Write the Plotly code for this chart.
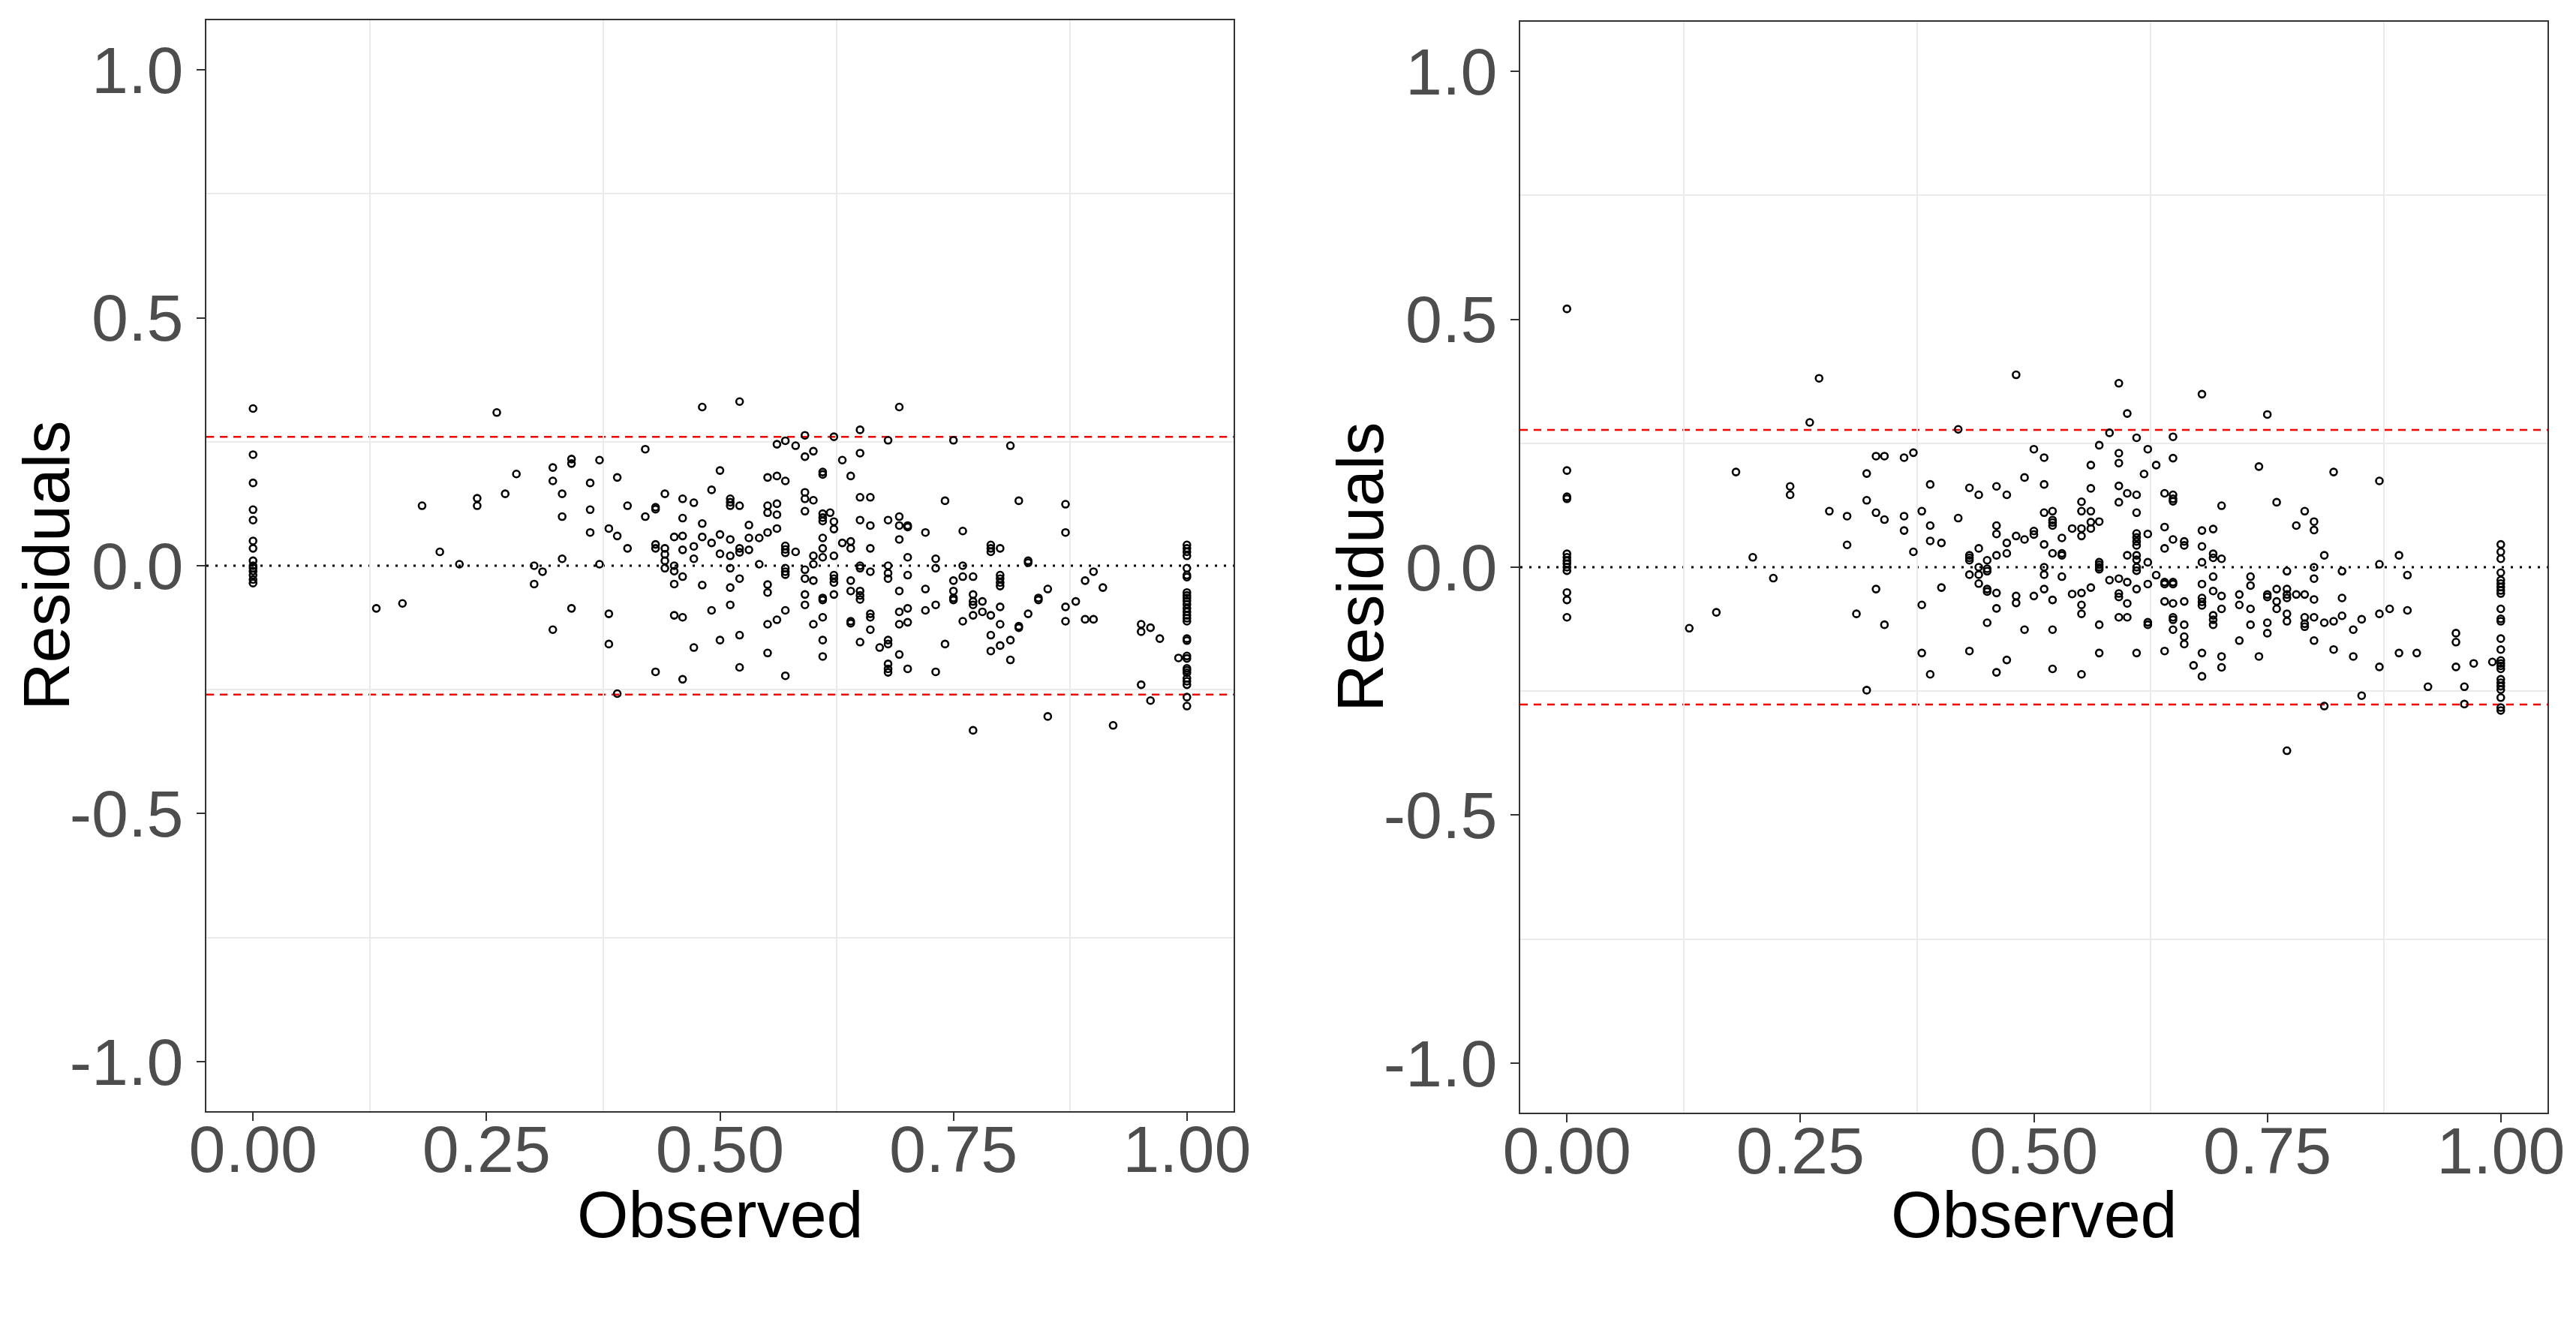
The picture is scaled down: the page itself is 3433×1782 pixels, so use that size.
# residuals vs observed, two panels (a) and (b)
import plotly.graph_objects as go

W, H = 3433, 1782          # browser window
OFF = 8                    # default body margin of the html page
FW, FH = W - 2 * OFF, H - 2 * OFF

# ---- data: (observed, residual) ----
pts_a = [
    (0, 0.317), (0, 0.224), (0, 0.167), (0, 0.113), (0, 0.092), (0, 0.050), (0, 0.035),
    (0, 0.010), (0, 0.0), (0, -0.005), (0, -0.011), (0, -0.019), (0, -0.028), (0, -0.035),
    (0.261, 0.309), (0.481, 0.320), (0.181, 0.121), (0.200, 0.028), (0.221, 0.003),
    (0.132, -0.086), (0.160, -0.076), (0.240, 0.136), (0.240, 0.121), (0.270, 0.145),
    (0.282, 0.185), (0.301, 0.0), (0.310, -0.012), (0.301, -0.037), (0.321, 0.198),
    (0.321, 0.171), (0.331, 0.145), (0.331, 0.099), (0.331, 0.014), (0.341, 0.215),
    (0.341, 0.206), (0.341, -0.086), (0.321, -0.129), (0.371, 0.213), (0.361, 0.167),
    (0.361, 0.113), (0.361, 0.067), (0.371, 0.003), (0.390, 0.178), (0.381, 0.075),
    (0.390, 0.060), (0.401, 0.121), (0.401, 0.035), (0.381, -0.097), (0.381, -0.158),
    (0.390, -0.258), (0.420, 0.235), (0.420, 0.099), (0.431, 0.118), (0.431, 0.114),
    (0.431, 0.043), (0.431, 0.035), (0.441, 0.145), (0.441, 0.035), (0.441, 0.023),
    (0.441, 0.010), (0.441, -0.005), (0.451, 0.058), (0.451, 0.0), (0.451, -0.011),
    (0.451, -0.037), (0.451, -0.100), (0.460, 0.135), (0.460, 0.096), (0.460, 0.060),
    (0.460, 0.032), (0.460, -0.022), (0.460, -0.104), (0.460, -0.229), (0.431, -0.214),
    (0.472, 0.127), (0.472, 0.039), (0.472, 0.014), (0.472, -0.165), (0.481, 0.085),
    (0.481, 0.058), (0.481, -0.039), (0.491, 0.153), (0.491, 0.046), (0.491, -0.090),
    (0.500, 0.192), (0.500, 0.063), (0.500, 0.024), (0.500, -0.150),
    (0.521, 0.331), (0.511, 0.135), (0.511, 0.128), (0.511, 0.121), (0.521, 0.121),
    (0.531, 0.082), (0.531, 0.056), (0.542, 0.056), (0.511, 0.053), (0.521, 0.035),
    (0.521, 0.027), (0.531, 0.032), (0.511, 0.020), (0.542, 0.003), (0.511, -0.005),
    (0.521, -0.026), (0.511, -0.044), (0.511, -0.079), (0.521, -0.140), (0.521, -0.205),
    (0.551, 0.178), (0.561, 0.181), (0.570, 0.171), (0.561, 0.245), (0.570, 0.252),
    (0.581, 0.242), (0.591, 0.263), (0.591, 0.220), (0.600, 0.231), (0.551, 0.121),
    (0.561, 0.125), (0.551, 0.107), (0.561, 0.103), (0.551, 0.067), (0.561, 0.075),
    (0.570, 0.040), (0.570, 0.033), (0.570, 0.026), (0.581, 0.028), (0.570, -0.005),
    (0.570, -0.012), (0.570, -0.018), (0.551, -0.038), (0.551, -0.054), (0.570, -0.090),
    (0.551, -0.118), (0.561, -0.109), (0.551, -0.176), (0.570, -0.222), (0.591, 0.148),
    (0.591, 0.135), (0.600, 0.132), (0.591, 0.110), (0.600, 0.020), (0.600, 0.003),
    (0.591, -0.008), (0.591, -0.026), (0.600, -0.030), (0.591, -0.058), (0.591, -0.079),
    (0.600, -0.118), (0.610, 0.189), (0.610, 0.184), (0.610, 0.105), (0.610, 0.097),
    (0.610, 0.090), (0.618, 0.107), (0.622, 0.089), (0.622, 0.074), (0.610, 0.056),
    (0.610, 0.035), (0.610, 0.017), (0.622, 0.020), (0.622, -0.019), (0.622, -0.026),
    (0.622, -0.034), (0.622, -0.058), (0.610, -0.065), (0.610, -0.069), (0.610, -0.104),
    (0.610, -0.150), (0.610, -0.183), (0.622, 0.260), (0.631, 0.213), (0.640, 0.181),
    (0.650, 0.274), (0.650, 0.227), (0.650, 0.138), (0.661, 0.138), (0.650, 0.092),
    (0.661, 0.081), (0.631, 0.046), (0.640, 0.049), (0.640, 0.035), (0.661, 0.035),
    (0.650, 0.0), (0.650, -0.005), (0.661, -0.012), (0.640, -0.030), (0.640, -0.051),
    (0.650, -0.051), (0.650, -0.060), (0.650, -0.068), (0.661, -0.097), (0.661, -0.104),
    (0.640, -0.112), (0.640, -0.116), (0.661, -0.129), (0.650, -0.154), (0.680, 0.253),
    (0.692, 0.320), (0.680, 0.092), (0.692, 0.099), (0.692, 0.081), (0.701, 0.081),
    (0.701, 0.078), (0.692, 0.053), (0.701, 0.017), (0.680, 0.0), (0.680, -0.015),
    (0.680, -0.026), (0.701, -0.019), (0.692, -0.051), (0.692, -0.093), (0.701, -0.086),
    (0.692, -0.118), (0.701, -0.114), (0.671, -0.165), (0.680, -0.150), (0.680, -0.158),
    (0.692, -0.179), (0.680, -0.198), (0.680, -0.208), (0.680, -0.215), (0.701, -0.208),
    (0.720, 0.067), (0.720, -0.047), (0.720, -0.090), (0.731, 0.014), (0.731, -0.005),
    (0.731, -0.079), (0.731, -0.214), (0.741, 0.131), (0.741, -0.158), (0.750, 0.253),
    (0.750, -0.030), (0.750, -0.051), (0.750, -0.065), (0.750, -0.069), (0.760, 0.070),
    (0.760, 0.0), (0.760, -0.022), (0.760, -0.112), (0.771, -0.022), (0.771, -0.058),
    (0.771, -0.072), (0.771, -0.079), (0.771, -0.100), (0.781, -0.072), (0.781, -0.093),
    (0.771, -0.332), (0.790, 0.042), (0.790, 0.035), (0.790, 0.028), (0.800, 0.035),
    (0.800, -0.019), (0.800, -0.026), (0.800, -0.034), (0.800, -0.041), (0.790, -0.100),
    (0.800, -0.083), (0.800, -0.118), (0.790, -0.140), (0.790, -0.172), (0.800, -0.161),
    (0.811, 0.242), (0.811, -0.150), (0.811, -0.190), (0.820, 0.131), (0.820, -0.122),
    (0.820, -0.125), (0.830, 0.010), (0.830, 0.006), (0.830, -0.097), (0.841, -0.065),
    (0.841, -0.069), (0.851, -0.047), (0.851, -0.304), (0.870, 0.124), (0.870, 0.067),
    (0.870, -0.083), (0.870, -0.112), (0.881, -0.072), (0.891, -0.030), (0.900, -0.012),
    (0.910, -0.044), (0.891, -0.108), (0.900, -0.108), (0.921, -0.322), (0.951, -0.118),
    (0.951, -0.133), (0.961, -0.125), (0.971, -0.147), (0.951, -0.240), (0.961, -0.272),
    (0.991, -0.186),
    (1, 0.042), (1, 0.035), (1, 0.028), (1, 0.020), (1, -0.005), (1, -0.019), (1, -0.023),
    (1, -0.054), (1, -0.060), (1, -0.065), (1, -0.071), (1, -0.078), (1, -0.086),
    (1, -0.093), (1, -0.100), (1, -0.106), (1, -0.112), (1, -0.147), (1, -0.151),
    (1, -0.182), (1, -0.187), (1, -0.207), (1, -0.211), (1, -0.216), (1, -0.227),
    (1, -0.233), (1, -0.240), (1, -0.265), (1, -0.283),
]

pts_b = [
    (0, 0.521), (0, 0.195), (0, 0.142), (0, 0.138), (0, 0.027), (0, 0.020), (0, 0.013),
    (0, 0.007), (0, 0.0), (0, -0.007), (0, -0.051), (0, -0.066), (0, -0.101),
    (0.131, -0.123), (0.160, -0.091), (0.181, 0.192), (0.199, 0.020), (0.221, -0.022),
    (0.239, 0.163), (0.239, 0.146), (0.260, 0.292), (0.270, 0.381), (0.281, 0.113),
    (0.300, 0.103), (0.300, 0.045), (0.310, -0.094), (0.321, 0.189), (0.321, 0.135),
    (0.321, -0.248), (0.331, 0.224), (0.340, 0.224), (0.331, 0.110), (0.340, 0.096),
    (0.331, -0.044), (0.340, -0.116), (0.361, 0.221), (0.371, 0.231), (0.361, 0.103),
    (0.361, 0.074), (0.371, 0.031), (0.380, 0.113), (0.380, -0.076), (0.380, -0.173),
    (0.389, 0.167), (0.389, 0.084), (0.389, 0.053), (0.401, 0.049), (0.401, -0.041),
    (0.389, -0.216), (0.419, 0.278), (0.419, 0.099), (0.431, 0.160), (0.441, 0.146),
    (0.431, 0.024), (0.431, 0.019), (0.431, 0.014), (0.441, 0.038), (0.431, -0.015),
    (0.441, 0.0), (0.441, -0.015), (0.441, -0.033), (0.450, 0.014), (0.450, -0.003),
    (0.450, -0.008), (0.450, -0.044), (0.450, -0.049), (0.431, -0.169), (0.450, -0.112),
    (0.460, 0.163), (0.471, 0.146), (0.460, 0.084), (0.460, 0.067), (0.471, 0.049),
    (0.460, 0.024), (0.471, 0.028), (0.460, -0.052), (0.460, -0.083), (0.471, -0.187),
    (0.460, -0.212), (0.481, 0.388), (0.481, 0.063), (0.490, 0.056), (0.481, -0.058),
    (0.481, -0.072), (0.490, 0.181), (0.490, -0.126), (0.500, 0.238), (0.511, 0.221),
    (0.511, 0.167), (0.500, 0.073), (0.500, 0.066), (0.500, -0.058), (0.511, 0.110),
    (0.520, 0.113), (0.520, 0.095), (0.520, 0.090), (0.520, 0.084), (0.511, 0.046),
    (0.511, 0.0), (0.511, -0.015), (0.511, -0.044), (0.520, 0.028), (0.530, 0.028),
    (0.530, 0.024), (0.530, 0.059), (0.530, -0.019), (0.520, -0.066), (0.520, -0.126),
    (0.520, -0.205), (0.541, 0.078), (0.551, 0.078), (0.551, 0.132), (0.551, 0.113),
    (0.551, 0.063), (0.541, -0.054), (0.551, -0.052), (0.551, -0.076), (0.551, -0.094),
    (0.551, -0.216), (0.561, 0.206), (0.561, 0.159), (0.561, 0.113), (0.561, 0.091),
    (0.561, 0.078), (0.561, -0.041), (0.570, 0.246), (0.570, 0.092), (0.570, 0.010),
    (0.570, 0.005), (0.570, 0.0), (0.570, -0.004), (0.570, -0.116), (0.570, -0.173),
    (0.581, 0.271), (0.581, -0.026), (0.591, 0.371), (0.591, 0.230), (0.591, 0.210),
    (0.591, 0.164), (0.591, 0.131), (0.591, -0.023), (0.591, -0.053), (0.591, -0.060),
    (0.591, -0.101), (0.600, 0.310), (0.600, 0.149), (0.600, 0.024), (0.600, -0.030),
    (0.600, -0.073), (0.600, -0.101), (0.610, 0.261), (0.610, 0.146), (0.610, 0.110),
    (0.610, 0.068), (0.610, 0.060), (0.610, 0.052), (0.610, 0.044), (0.610, 0.024),
    (0.610, 0.015), (0.610, 0.0), (0.610, -0.007), (0.610, -0.044), (0.610, -0.173),
    (0.618, 0.188), (0.622, 0.238), (0.622, 0.067), (0.622, 0.010), (0.622, -0.034),
    (0.622, -0.111), (0.622, -0.116), (0.631, 0.206), (0.631, -0.016), (0.640, 0.149),
    (0.640, 0.081), (0.640, 0.038), (0.640, -0.030), (0.640, -0.034), (0.640, -0.069),
    (0.640, -0.169), (0.649, 0.263), (0.649, 0.220), (0.649, 0.146), (0.649, 0.138),
    (0.649, 0.133), (0.649, 0.056), (0.649, -0.030), (0.649, -0.034), (0.649, -0.073),
    (0.649, -0.101), (0.649, -0.106), (0.649, -0.126), (0.661, 0.052), (0.661, 0.044),
    (0.661, -0.069), (0.661, -0.116), (0.661, -0.140), (0.661, -0.155), (0.671, -0.198),
    (0.680, 0.349), (0.680, 0.074), (0.692, 0.077), (0.680, 0.042), (0.680, 0.010),
    (0.680, -0.034), (0.680, -0.062), (0.680, -0.070), (0.680, -0.077), (0.680, -0.173),
    (0.680, -0.220), (0.692, 0.027), (0.692, 0.019), (0.692, -0.019), (0.692, -0.048),
    (0.692, -0.097), (0.692, -0.106), (0.692, -0.116), (0.701, 0.124), (0.701, 0.017),
    (0.701, -0.058), (0.701, -0.084), (0.701, -0.180), (0.701, -0.202), (0.720, -0.055),
    (0.720, -0.076), (0.720, -0.148), (0.732, -0.019), (0.732, -0.037), (0.732, -0.084),
    (0.732, -0.116), (0.741, 0.203), (0.741, -0.180), (0.750, 0.308), (0.750, -0.055),
    (0.750, -0.060), (0.750, -0.112), (0.750, -0.133), (0.760, 0.131), (0.760, -0.044),
    (0.760, -0.069), (0.760, -0.084), (0.771, -0.008), (0.771, -0.044), (0.771, -0.055),
    (0.771, -0.062), (0.771, -0.094), (0.771, -0.109), (0.771, -0.370), (0.781, 0.084),
    (0.781, -0.055), (0.790, -0.055), (0.790, 0.113), (0.790, -0.101), (0.790, -0.114),
    (0.790, -0.120), (0.800, 0.092), (0.800, 0.075), (0.800, 0.0), (0.800, -0.023),
    (0.800, -0.065), (0.800, -0.101), (0.800, -0.148), (0.811, 0.024), (0.811, -0.112),
    (0.811, -0.280), (0.821, 0.192), (0.821, -0.109), (0.821, -0.166), (0.830, -0.008),
    (0.830, -0.062), (0.830, -0.098), (0.842, -0.126), (0.842, -0.180), (0.851, -0.105),
    (0.851, -0.259), (0.870, 0.174), (0.870, 0.006), (0.870, -0.094), (0.870, -0.201),
    (0.881, -0.084), (0.891, 0.024), (0.891, -0.173), (0.900, -0.016), (0.900, -0.087),
    (0.910, -0.173), (0.922, -0.241), (0.952, -0.133), (0.952, -0.151), (0.952, -0.201),
    (0.961, -0.241), (0.961, -0.276), (0.971, -0.194), (0.991, -0.191),
    (1, 0.046), (1, 0.031), (1, 0.017), (1, -0.011), (1, -0.026), (1, -0.033), (1, -0.040),
    (1, -0.047), (1, -0.053), (1, -0.084), (1, -0.104), (1, -0.109), (1, -0.144),
    (1, -0.166), (1, -0.188), (1, -0.194), (1, -0.199), (1, -0.205), (1, -0.226),
    (1, -0.233), (1, -0.240), (1, -0.247), (1, -0.263), (1, -0.283), (1, -0.289),
]

limit_a = 0.26     # red dashed band, panel a
limit_b = 0.277    # red dashed band, panel b

x_ticks = [0, 0.25, 0.5, 0.75, 1]
x_labels = ["0.00", "0.25", "0.50", "0.75", "1.00"]
y_ticks = [-1, -0.5, 0, 0.5, 1]
y_labels = ["-1.0", "-0.5", "0.0", "0.5", "1.0"]
panel_tags = ["(<b>a</b>)", "(<b>b</b>)"]

SANS = "Liberation Sans, Arial, sans-serif"
SERIF = "Liberation Serif, Times New Roman, serif"


def fx(p):  # window pixel -> paper x
    return (p - OFF) / FW


def fy(p):  # window pixel -> paper y
    return 1 - (p - OFF) / FH


# pixel boxes of the two panels in the window (left, right, top, bottom)
boxes = [(275, 1644, 27, 1481), (2026, 3395, 29, 1483)]
# panel tags sit below each panel, placed in the panel's own axis units
tag_pos = [(0.401, -1.48), (0.398, -1.477)]

fig = go.Figure()

for i, (pts, lim) in enumerate([(pts_a, limit_a), (pts_b, limit_b)]):
    n = "" if i == 0 else str(i + 1)
    xs = [p[0] for p in pts]
    ys = [p[1] for p in pts]
    fig.add_trace(go.Scatter(
        x=xs, y=ys, mode="markers", xaxis="x" + n, yaxis="y" + n,
        marker=dict(symbol="circle-open", size=9, color="black", line=dict(width=2.6)),
        showlegend=False, hoverinfo="skip"))

    # panel tag "(a)" / "(b)" as a text trace below the axis (not clipped)
    fig.add_trace(go.Scatter(
        x=[tag_pos[i][0]], y=[tag_pos[i][1]], mode="text", text=[panel_tags[i]],
        textposition="middle center", xaxis="x" + n, yaxis="y" + n,
        textfont=dict(family=SERIF, size=72, color="black"),
        cliponaxis=False, showlegend=False, hoverinfo="skip"))

    l, r, t, b = boxes[i]
    ax = dict(
        domain=[fx(l), fx(r)], range=[-0.05, 1.05],
        tickvals=x_ticks, ticktext=x_labels,
        ticks="outside", ticklen=11, tickwidth=2, tickcolor="#333333",
        ticklabelstandoff=-38,
        showline=True, linecolor="#333333", linewidth=2, mirror=True,
        showgrid=False, zeroline=False, automargin=False,
        minor=dict(tickvals=[0.125, 0.375, 0.625, 0.875], showgrid=True,
                   gridcolor="#EBEBEB", gridwidth=2, ticks=""),
        tickfont=dict(family=SANS, size=88, color="#4D4D4D"),
        anchor="y" + n,
    )
    ay = dict(
        domain=[fy(b), fy(t)], range=[-1.1, 1.1],
        tickvals=y_ticks, ticktext=y_labels,
        ticks="outside", ticklen=11, tickwidth=2, tickcolor="#333333",
        showline=True, linecolor="#333333", linewidth=2, mirror=True,
        showgrid=False, zeroline=False, automargin=False,
        minor=dict(tickvals=[-0.75, -0.25, 0.25, 0.75], showgrid=True,
                   gridcolor="#EBEBEB", gridwidth=2, ticks=""),
        tickfont=dict(family=SANS, size=88, color="#4D4D4D"),
        anchor="x" + n,
    )
    fig.update_layout({"xaxis" + n: ax, "yaxis" + n: ay})

    # reference lines
    for yv, col, dash, wd in [(0, "black", "3px,9px", 3),
                              (lim, "#FF0000", "10px,8px", 2.5),
                              (-lim, "#FF0000", "10px,8px", 2.5)]:
        fig.add_shape(type="line", xref="x" + n + " domain", yref="y" + n,
                      x0=0, x1=1, y0=yv, y1=yv, layer="below",
                      line=dict(color=col, dash=dash, width=wd))

    # axis titles
    fig.add_annotation(text="Observed", xref="paper", yref="paper",
                       x=fx((l + r) / 2), y=fy(1618), showarrow=False,
                       xanchor="center", yanchor="middle",
                       font=dict(family=SANS, size=88, color="black"))
    fig.add_annotation(text="Residuals", xref="paper", yref="paper",
                       x=fx(l - 214), y=fy((t + b) / 2), showarrow=False,
                       textangle=-90, xanchor="center", yanchor="middle",
                       font=dict(family=SANS, size=88, color="black"))

fig.update_layout(template="none", width=FW, height=FH, autosize=False,
                  margin=dict(l=0, r=0, t=0, b=0, pad=0, autoexpand=False),
                  paper_bgcolor="white", plot_bgcolor="white")

fig.write_html("out.html")
